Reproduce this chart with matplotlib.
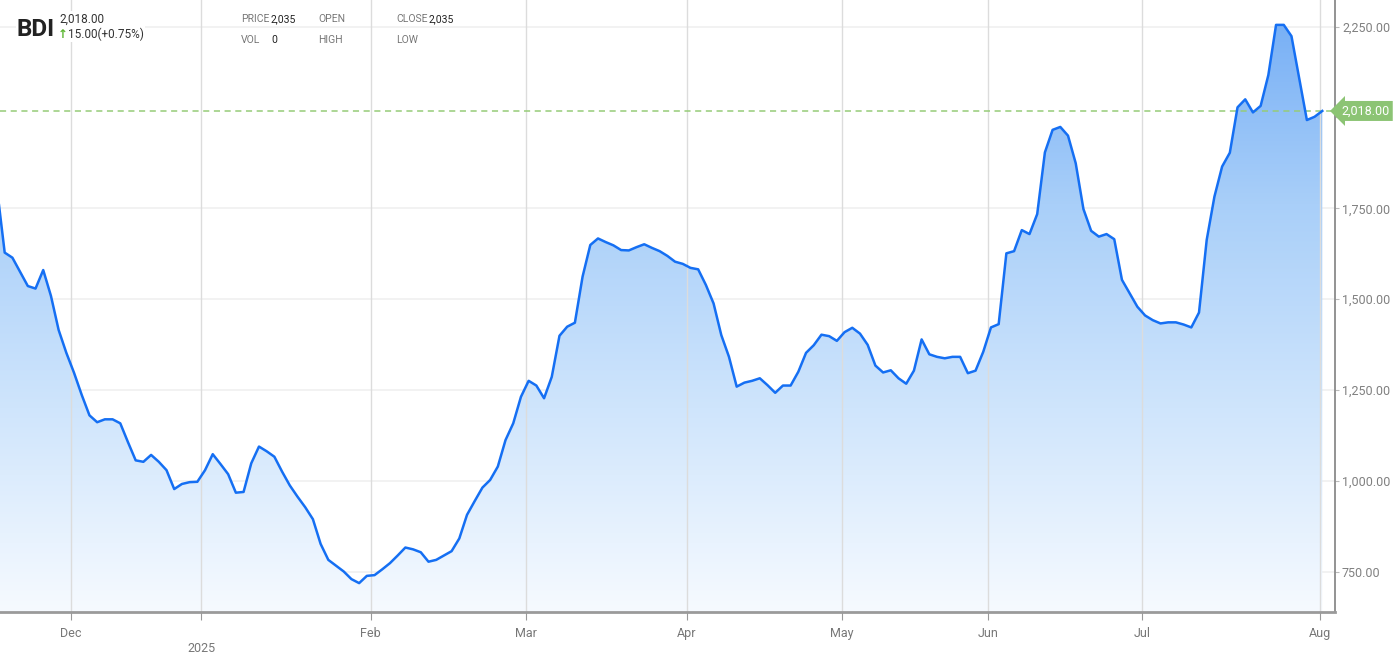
import matplotlib
matplotlib.use("Agg")
import matplotlib.pyplot as plt
import matplotlib.transforms as mtransforms
from matplotlib.colors import LinearSegmentedColormap
from matplotlib.patches import Polygon
import numpy as np

plt.rcParams['font.family'] = ['Roboto', 'DejaVu Sans']

# ---- BDI daily closes (first one sits just left of the frame)
values = [1805,
          1628, 1614, 1575, 1536, 1529, 1580, 1509, 1415, 1352, 1297,
          1236, 1180, 1161, 1169, 1169, 1158, 1106, 1056, 1052, 1071,
          1052, 1029, 977, 991, 996, 997, 1029, 1073, 1046, 1018,
          967, 969, 1048, 1094, 1081, 1066, 1025, 987, 956, 927,
          894, 826, 782, 766, 750, 729, 718, 738, 740, 756,
          773, 794, 816, 811, 803, 777, 782, 794, 806, 841,
          906, 944, 981, 1002, 1039, 1112, 1158, 1231, 1275, 1262,
          1227, 1286, 1399, 1424, 1435, 1562, 1649, 1667, 1657, 1648,
          1635, 1634, 1643, 1651, 1641, 1632, 1619, 1603, 1597, 1586,
          1582, 1539, 1488, 1401, 1341, 1259, 1270, 1275, 1282, 1263,
          1242, 1262, 1262, 1300, 1352, 1373, 1402, 1398, 1385, 1409,
          1421, 1405, 1374, 1317, 1298, 1304, 1282, 1267, 1303, 1389,
          1348, 1341, 1337, 1341, 1341, 1296, 1303, 1355, 1422, 1431,
          1626, 1632, 1690, 1679, 1734, 1904, 1966, 1974, 1950, 1874,
          1748, 1688, 1672, 1679, 1665, 1553, 1516, 1479, 1455, 1442,
          1433, 1436, 1436, 1430, 1422, 1463, 1663, 1782, 1865, 1903,
          2028, 2050, 2014, 2032, 2117, 2255, 2255, 2224, 2108, 1993,
          2002, 2018]
idx = np.arange(-1, len(values) - 1)

last = values[-1]
month_pos = [8.57, 25.52, 47.5, 67.62, 88.51, 108.63, 127.58, 147.57, 170.71]
month_lbl = ['Dec', '\n2025', 'Feb', 'Mar', 'Apr', 'May', 'Jun', 'Jul', 'Aug']
y_ticks = [750, 1000, 1250, 1500, 1750, 2000, 2250]
y_lbl = ['750.00', '1,000.00', '1,250.00', '1,500.00', '1,750.00', '', '2,250.00']

W, H = 1394, 662
fig = plt.figure(figsize=(W / 100, H / 100), dpi=100)
ax = fig.add_axes([0, 50 / H, 1335 / W, 612 / H])

ymin, ymax = 638.5, 2323.5
ax.set_xlim(-0.61, 172.65)
ax.set_ylim(ymin, ymax)

# gradient fill under the line
cmap = LinearSegmentedColormap.from_list('bdi', ['#f6faff', '#cfe5fc', '#a9cff9', '#72acf5'])
grad = np.linspace(0, 1, 256).reshape(-1, 1)
im = ax.imshow(grad, cmap=cmap, aspect='auto', origin='lower',
               extent=[idx[0], idx[-1], ymin, ymax], zorder=1)
verts = np.vstack([[idx[0], ymin], np.column_stack([idx, values]), [idx[-1], ymin]])
clip = Polygon(verts, closed=True, fc='none', ec='none')
ax.add_patch(clip)
im.set_clip_path(clip)

ax.plot(idx, values, color='#156ff3', lw=1.8, zorder=4)
ax.axhline(last, color='#96cc78', lw=1.1, ls=(0, (4, 3)), zorder=3)

# axes / grid
ax.set_xticks(month_pos)
ax.set_xticklabels(month_lbl, color='#777777', fontsize=9)
ax.yaxis.tick_right()
ax.set_yticks(y_ticks)
ax.set_yticklabels(y_lbl, color='#808080', fontsize=9)
ax.tick_params(axis='x', length=6, color='#999999', pad=5)
ax.tick_params(axis='y', length=3, color='#bbbbbb', pad=2)
ax.xaxis.get_major_ticks()[1].tick1line.set_linestyle(':')
for m in month_pos:
    ax.axvline(m, color='#dcdcdc', lw=1, zorder=2)
for t in [750, 1000, 1250, 1500, 1750, 2250]:
    ax.axhline(t, color='#f0f0f0', lw=1.2, zorder=0.5)
for s in ['top', 'left']:
    ax.spines[s].set_visible(False)
ax.spines['right'].set_color('#8a8a8a')
ax.spines['right'].set_linewidth(1.3)
ax.spines['bottom'].set_color('#9a9a9a')
ax.spines['bottom'].set_linewidth(2)

# last price tag
tr = mtransforms.blended_transform_factory(ax.transAxes, ax.transData)
ax.text(1 + 6 / 1335, last, '{:,.2f}'.format(last), transform=tr, color='white',
        fontsize=9, va='center', ha='left', clip_on=False, zorder=6,
        bbox=dict(boxstyle='larrow,pad=0.28', fc='#8cc474', ec='none'))

# header
def px(x, y):
    return x / W, 1 - y / H

bg = dict(fc='white', ec='none', pad=1)
fig.text(*px(17, 29), 'BDI', fontsize=17.5, fontweight='bold', color='#222222', va='center', bbox=bg)
fig.text(*px(59, 19), '{:,.2f}'.format(last), fontsize=8.5, color='#333333', va='center', bbox=bg)
fig.text(*px(58, 34), '\u2191', fontsize=8.5, fontweight='bold', color='#5cb531', va='center',
         family=['DejaVu Sans'], bbox=bg)
fig.text(*px(68, 34), '15.00(+0.75%)', fontsize=8.5, color='#333333', va='center', bbox=bg)

hdr = [(241, 19, 'PRICE', '#777777'), (271, 19, '2,035', '#222222'),
       (318, 19, 'OPEN', '#777777'), (396, 19, 'CLOSE', '#777777'),
       (429, 19, '2,035', '#222222'), (241, 40, 'VOL', '#777777'),
       (271, 40, '0', '#222222'), (318, 40, 'HIGH', '#777777'),
       (396, 40, 'LOW', '#777777')]
for x, y, s, c in hdr:
    fig.text(*px(x, y), s, fontsize=7.5, color=c, va='center')

fig.savefig('out.png', dpi=100)
